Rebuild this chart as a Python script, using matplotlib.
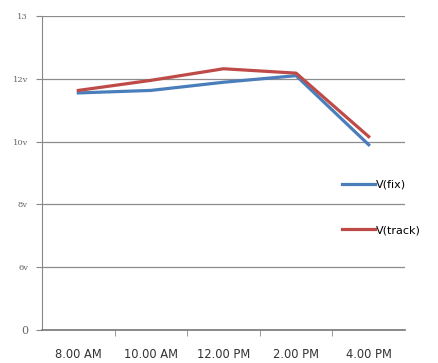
import numpy as np
from matplotlib import pyplot as plt

times = ['8.00 AM', '10.00 AM', '12.00 PM', '2.00 PM', '4.00 PM']
v_fix = [11.55, 11.63, 11.89, 12.05, 9.90]
v_track = [11.63, 11.95, 12.16, 12.09, 10.16]

ytick_vals = [0, 6, 8, 10, 12, 13]
ytick_labels = ['0', '6v', '8v', '10v', '12v', '13']

# axis is spaced evenly between the labelled values
pos = np.arange(len(ytick_vals))
def fwd(v):
    return np.interp(v, ytick_vals, pos)
def inv(p):
    return np.interp(p, pos, ytick_vals)

fig = plt.figure(figsize=(4.39, 3.63), dpi=100)
ax = fig.add_axes([42/439, 1 - 330/363, 363/439, 314/363])
ax.set_yscale('function', functions=(fwd, inv))

x = np.arange(len(times))
ax.plot(x, v_fix, color='#4A7EBB', lw=2.3, label='V(fix)', zorder=3)
ax.plot(x, v_track, color='#BE4B48', lw=2.3, label='V(track)', zorder=3)

ax.set_xlim(-0.5, 4.5)
ax.set_ylim(0, 13)
ax.set_yticks(ytick_vals)
ax.set_yticklabels(ytick_labels, fontsize=6, color='#666666', family='DejaVu Serif')
ax.get_yticklabels()[0].set_fontsize(8)
ax.set_xticks(x)
ax.set_xticklabels(times, fontsize=8.3, color='#333333')
ax.set_xticks(np.arange(0.5, 4.5, 1), minor=True)
ax.tick_params(axis='x', which='major', length=0, pad=13)
ax.tick_params(axis='x', which='minor', length=4, color='#888888')
ax.tick_params(axis='y', length=4, color='#888888', pad=6)

ax.grid(axis='y', color='#8c8c8c', lw=0.9)
for s in ['top', 'right']:
    ax.spines[s].set_visible(False)
ax.spines['left'].set_color('#888888')
ax.spines['bottom'].set_color('#777777')
ax.spines['bottom'].set_linewidth(1.2)

leg = ax.legend(loc='center left', bbox_to_anchor=(0.8, 0.39), frameon=False,
                fontsize=8, handlelength=2.9, handletextpad=0.1, labelspacing=3.2)

plt.savefig('out.png', dpi=100)
